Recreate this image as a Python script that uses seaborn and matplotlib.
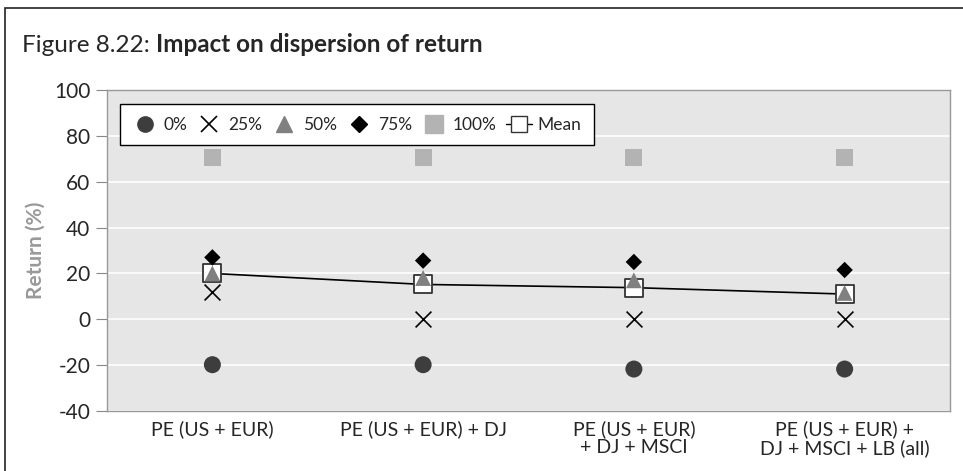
import numpy as np
import pandas as pd
import seaborn as sns
import matplotlib.pyplot as plt
from matplotlib.patches import Rectangle
from matplotlib.lines import Line2D

# dados
categorias = ['PE (US + EUR)', 'PE (US + EUR) + DJ',
              'PE (US + EUR)\n+ DJ + MSCI', 'PE (US + EUR) +\nDJ + MSCI + LB (all)']
p0 = [-19.8, -19.8, -21.7, -21.7]
p25 = [11.7, 0.0, 0.0, 0.0]
p50 = [20.0, 18.0, 17.0, 11.5]
p75 = [27.0, 25.6, 25.0, 21.5]
p100 = [70.5, 70.5, 70.5, 70.5]
media = [20.0, 15.2, 13.8, 11.0]

sns.set_style('white')
plt.rcParams['font.family'] = ['Lato', 'DejaVu Sans']
plt.rcParams['axes.unicode_minus'] = False

fig = plt.figure(figsize=(9.63, 4.71), dpi=100)
ax = fig.add_axes([107 / 963, 1 - 411 / 471, (950 - 107) / 963, (411 - 90) / 471])

x = np.arange(len(categorias))
ax.set_facecolor('#e6e6e6')
for yv in range(-40, 101, 20):
    ax.axhline(yv, color='white', lw=1.2, zorder=0)

df_mean = pd.DataFrame({'x': x, 'y': media})
sns.lineplot(data=df_mean, x='x', y='y', color='black', lw=1.2, ax=ax, zorder=2)
sns.scatterplot(x=x, y=p100, marker='s', s=150, color='#b3b3b3', edgecolor='none', ax=ax, zorder=3)
sns.scatterplot(x=x, y=media, marker='s', s=150, color='white', edgecolor='#333333', linewidth=1.3, ax=ax, zorder=3)
sns.scatterplot(x=x, y=p50, marker='^', s=130, color='#808080', edgecolor='none', ax=ax, zorder=4)
sns.scatterplot(x=x, y=p75, marker='D', s=70, color='black', edgecolor='none', ax=ax, zorder=5)
sns.scatterplot(x=x, y=p25, marker='x', s=130, color='black', linewidth=1.2, ax=ax, zorder=5)
sns.scatterplot(x=x, y=p0, marker='o', s=150, color='#3d3d3d', edgecolor='none', ax=ax, zorder=5)

ax.set_xlim(-0.5, len(categorias) - 0.5)
ax.set_ylim(-40, 100)
ax.set_yticks(range(-40, 101, 20))
ax.set_xticks(x)
ax.set_xticklabels(categorias, fontsize=14, linespacing=1.05)
ax.set_xticks(np.arange(-0.5, len(categorias), 1.0), minor=True)
ax.tick_params(axis='x', which='major', length=0, pad=7)
ax.tick_params(axis='x', which='minor', length=14, color='#888888', width=1)
ax.tick_params(axis='y', length=8, color='#888888', labelsize=15, pad=4, direction='out', left=True)
ax.set_xlabel('')
ax.set_ylabel('Return (%)', fontsize=15, fontweight='bold', color='#999999', labelpad=6)
for s in ax.spines.values():
    s.set_color('#999999')
    s.set_linewidth(1)

handles = [
    Line2D([], [], marker='o', ls='none', color='#3d3d3d', markersize=11),
    Line2D([], [], marker='x', ls='none', color='black', markersize=11, mew=1.2),
    Line2D([], [], marker='^', ls='none', color='#808080', markersize=11),
    Line2D([], [], marker='D', ls='none', color='black', markersize=8),
    Line2D([], [], marker='s', ls='none', color='#b3b3b3', markersize=13),
    Line2D([], [], marker='s', color='black', lw=1, mfc='white', mec='#333333', markersize=11),
]
labels = ['0%', '25%', '50%', '75%', '100%', 'Mean']
leg = ax.legend(handles, labels, ncol=6, loc='upper left', bbox_to_anchor=(0.015, 0.955),
                frameon=True, fancybox=False, edgecolor='black', framealpha=1,
                fontsize=12.5, handlelength=1.5, handletextpad=0.35, columnspacing=0.5,
                borderpad=0.7, borderaxespad=0)
leg.get_frame().set_linewidth(1)

# moldura da figura
fig.patches.append(Rectangle((5 / 963, -0.1), 1.2, 1.1 - 8 / 471, transform=fig.transFigure,
                             fill=False, edgecolor='#222222', lw=1.2))
t1 = fig.text(22 / 963, 1 - 45 / 471, 'Figure 8.22: ', fontsize=17.5, va='center', ha='left')
fig.canvas.draw()
bb = t1.get_window_extent()
fig.text(bb.x1 / fig.bbox.width, 1 - 45 / 471, 'Impact on dispersion of return', fontsize=17.5,
         fontweight='bold', va='center', ha='left')

fig.savefig('out.png', dpi=100)
